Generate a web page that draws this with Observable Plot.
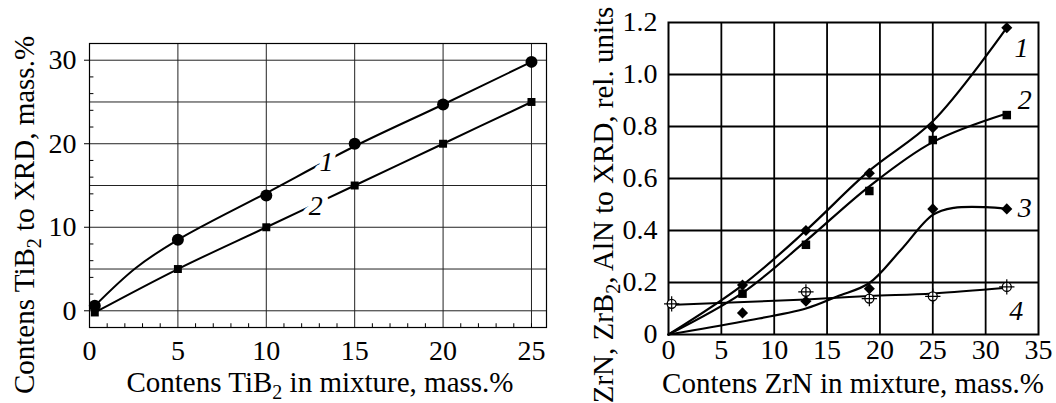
<!DOCTYPE html>
<html><head><meta charset="utf-8">
<script src="https://cdn.jsdelivr.net/npm/d3@7"></script>
<script src="https://cdn.jsdelivr.net/npm/@observablehq/plot@0.6"></script>
<style>
body{margin:0;background:#fff;}
#wrap{position:relative;width:1056px;height:403px;overflow:hidden;background:#fff;}
#wrap svg{position:absolute;top:0;font-family:'Liberation Serif','Times New Roman',serif !important;}
</style></head><body><div id="wrap"></div>
<script>
const FONT = "Liberation Serif";

// ---- Left panel: TiB2 ----
const tibX = [0.3, 5, 10, 15, 20, 25];
const tibCircles = [0.6, 8.5, 13.8, 20, 24.7, 29.8];   // curve 1
const tibSquares = [-0.2, 5, 10, 15, 20, 25];          // curve 2
const fitTibX = [0.3, 2.6, 5, 10, 15, 20, 25];         // curve 1 as drawn
const fitTib = [0.6, 5.1, 8.5, 14.1, 19.7, 24.7, 29.8];
const leftXTicks = [0, 5, 10, 15, 20, 25];
const leftYTicks = [0, 10, 20, 30];
const leftXGrid = [5, 10, 15, 20, 25];
const leftYGrid = [0, 5, 10, 15, 20, 25, 30];
const leftXMinor = [1,2,3,4,6,7,8,9,11,12,13,14,16,17,18,19,21,22,23,24,25];
const leftYMinor = [-2,2,4,6,8,12,14,16,18,22,24,26,28];
const leftLabels = [{x: 13.4, y: 17.8, t: "1"}, {x: 12.8, y: 12.6, t: "2"}];

// ---- Right panel: ZrN ----
const zrX = [7, 13, 19, 25, 32];
const zr1 = [0.19, 0.40, 0.62, 0.795, 1.18];     // diamonds, curve 1
const zr2 = [0.157, 0.345, 0.552, 0.748, 0.844]; // squares, curve 2
const zr3 = [0.083, 0.128, 0.176, 0.483, 0.483]; // diamonds, curve 3
const zr4X = [0.3, 13, 19, 25, 32];
const zr4 = [0.118, 0.164, 0.138, 0.147, 0.183]; // circled plus, curve 4
// fitted curves
const fit1X = [0, 7, 13, 19, 25, 32];
const fit1 = [0, 0.19, 0.40, 0.63, 0.82, 1.18];
const fit2X = [0, 7, 13, 19, 25, 32];
const fit2 = [0, 0.16, 0.36, 0.57, 0.74, 0.85];
const fit3X = [0, 7, 13, 16, 19, 22, 25, 27, 30, 32];
const fit3 = [0, 0.05, 0.10, 0.147, 0.198, 0.326, 0.46, 0.487, 0.49, 0.483];
const fit4X = [0, 13, 19, 25, 32];
const fit4 = [0.113, 0.135, 0.148, 0.158, 0.18];
const rightXTicks = [0, 5, 10, 15, 20, 25, 30, 35];
const rightYTicks = [0, 0.2, 0.4, 0.6, 0.8, 1.0, 1.2];
const rightXGrid = [5, 10, 15, 20, 25, 30];
const rightYGrid = [0.2, 0.4, 0.6, 0.8, 1.0];
const rightLabels = [{x: 33.4, y: 1.10, t: "1"}, {x: 33.7, y: 0.90, t: "2"}, {x: 33.7, y: 0.486, t: "3"}, {x: 32.9, y: 0.09, t: "4"}];

const pts = (xs, ys) => xs.map((x, i) => ({x, y: ys[i]}));

const left = Plot.plot({
  width: 560, height: 403,
  marginLeft: 89, marginRight: 14, marginTop: 43, marginBottom: 76,
  x: {domain: [0, 25.85]},
  y: {domain: [-2, 32]},
  style: {fontFamily: FONT, fontSize: "28px", color: "#000", background: "transparent"},
  marks: [
    Plot.ruleX(leftXGrid, {stroke: "#222", strokeWidth: 1}),
    Plot.ruleY(leftYGrid, {stroke: "#222", strokeWidth: 1}),
    Plot.frame({stroke: "#000", strokeWidth: 1.2}),
    Plot.ruleX(leftXMinor, {y1: -2, y2: -1.55, stroke: "#000"}),
    Plot.ruleY(leftYMinor, {x1: 0, x2: 0.25, stroke: "#000"}),
    Plot.axisX(leftXTicks, {tickSize: 0, tickPadding: 13, label: null, fontSize: 28, fontFamily: FONT}),
    Plot.axisY(leftYTicks, {tickSize: 5, tickPadding: 8, label: null, fontSize: 28, fontFamily: FONT}),
    Plot.line(pts(fitTibX, fitTib), {x: "x", y: "y", curve: "catmull-rom", stroke: "#000", strokeWidth: 2}),
    Plot.line(pts(tibX, tibSquares), {x: "x", y: "y", curve: "catmull-rom", stroke: "#000", strokeWidth: 2}),
    Plot.text(leftLabels, {x: "x", y: "y", text: "t", fontStyle: "italic", fontSize: 28, fill: "#000", stroke: "white", strokeWidth: 12, fontFamily: FONT}),
    Plot.dot(pts(tibX, tibCircles), {x: "x", y: "y", r: 6, fill: "#000", stroke: "none"}),
    Plot.dot(pts(tibX, tibSquares), {x: "x", y: "y", r: 4.5, symbol: "square", fill: "#000", stroke: "none"})
  ]
});

const right = Plot.plot({
  width: 496, height: 403,
  marginLeft: 108, marginRight: 18, marginTop: 22, marginBottom: 69,
  x: {domain: [0, 35]},
  y: {domain: [0, 1.2]},
  style: {fontFamily: FONT, fontSize: "28px", color: "#000", background: "transparent"},
  marks: [
    Plot.ruleX(rightXGrid, {stroke: "#000", strokeWidth: 1.8}),
    Plot.ruleY(rightYGrid, {stroke: "#000", strokeWidth: 1.8}),
    Plot.frame({stroke: "#000", strokeWidth: 2}),
    Plot.axisX(rightXTicks, {tickSize: 0, tickPadding: 5, label: null, fontSize: 28, fontFamily: FONT}),
    Plot.axisY(rightYTicks, {tickSize: 0, tickPadding: 11, label: null, fontSize: 28, fontFamily: FONT, tickFormat: d => d === 0 ? "0" : d.toFixed(1)}),
    Plot.line(pts(fit1X, fit1), {x: "x", y: "y", curve: "catmull-rom", stroke: "#000", strokeWidth: 2.2}),
    Plot.line(pts(fit2X, fit2), {x: "x", y: "y", curve: "catmull-rom", stroke: "#000", strokeWidth: 2.2}),
    Plot.line(pts(fit3X, fit3), {x: "x", y: "y", curve: "catmull-rom", stroke: "#000", strokeWidth: 2.2}),
    Plot.line(pts(fit4X, fit4), {x: "x", y: "y", curve: "catmull-rom", stroke: "#000", strokeWidth: 2}),
    Plot.dot(pts(zrX, zr1), {x: "x", y: "y", r: 5, symbol: "diamond2", fill: "#000", stroke: "none"}),
    Plot.dot(pts(zrX, zr2), {x: "x", y: "y", r: 4.8, symbol: "square", fill: "#000", stroke: "none"}),
    Plot.dot(pts(zrX, zr3), {x: "x", y: "y", r: 5, symbol: "diamond2", fill: "#000", stroke: "none"}),
    Plot.dot(pts(zr4X, zr4), {x: "x", y: "y", r: 4.5, fill: "white", stroke: "#000", strokeWidth: 1.3}),
    Plot.dot(pts(zr4X, zr4), {x: "x", y: "y", r: 5, symbol: "plus", stroke: "#000", strokeWidth: 1.2}),
    Plot.text(rightLabels, {x: "x", y: "y", text: "t", fontStyle: "italic", fontSize: 28, fill: "#000", fontFamily: FONT})
  ]
});

const wrap = document.getElementById("wrap");
left.style.left = "0px";
right.style.left = "560px";
wrap.appendChild(left);
wrap.appendChild(right);

function title(svg, x, y, rotate, parts) {
  const t = d3.select(svg).append("text")
    .attr("transform", `translate(${x},${y})` + (rotate ? " rotate(-90)" : ""))
    .attr("text-anchor", "middle")
    .attr("font-family", FONT)
    .attr("font-size", 29)
    .attr("fill", "#000");
  parts.forEach(p => {
    const s = t.append("tspan").text(p.t);
    if (p.sub) s.attr("font-size", 20).attr("dy", 7);
    if (p.back) s.attr("dy", -7);
  });
}
title(left, 34, 215, true, [{t: "Contens TiB"}, {t: "2", sub: true}, {t: " to XRD, mass.%", back: true}]);
title(left, 320, 392, false, [{t: "Contens TiB"}, {t: "2", sub: true}, {t: " in mixture, mass.%", back: true}]);
title(right, 53, 205, true, [{t: "ZrN, ZrB"}, {t: "2", sub: true}, {t: ", AlN to XRD, rel. units", back: true}]);
title(right, 293, 393, false, [{t: "Contens ZrN in mixture, mass.%"}]);
</script>
</body></html>
